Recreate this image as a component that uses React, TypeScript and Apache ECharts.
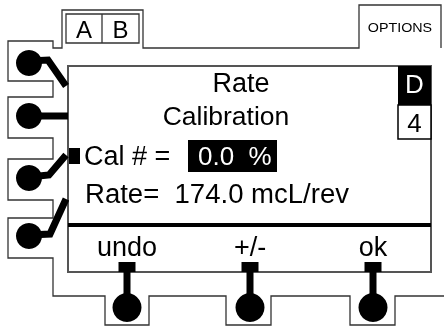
import React, { useEffect, useRef } from 'react';
import * as echarts from 'echarts';

const titleLines = ['Rate', 'Calibration'];
const tabLabels = ['A', 'B'];
const optionsLabel = 'OPTIONS';
const modeLabels = ['D', '4'];
const calLabel = 'Cal # =';
const calValue = '0.0  %';
const rateLabel = 'Rate=  174.0 mcL/rev';
const softKeys = ['undo', '+/-', 'ok'];

const FONT = '"Liberation Sans", Arial, Helvetica, sans-serif';

const outlinePts = [
  [441, 48], [441, 5], [359, 5], [359, 48], [143, 48], [143, 10], [62, 10], [62, 48],
  [53, 48], [53, 41], [8, 41], [8, 81], [53, 81], [53, 97], [8, 97], [8, 138], [53, 138],
  [53, 159], [8, 159], [8, 200], [53, 200], [53, 218], [8, 218], [8, 258], [53, 258],
  [53, 296], [105, 296], [105, 325], [149, 325], [149, 296], [226, 296], [226, 325],
  [271, 325], [271, 296], [350, 296], [350, 325], [395, 325], [395, 296], [444, 296],
];

const leftButtons = [
  { c: [29, 63], stem: [[29, 61], [48, 60], [66, 86]] },
  { c: [29, 116], stem: [[29, 116], [68, 116]] },
  { c: [29, 178], stem: [[29, 177], [49, 175], [66, 155]] },
  { c: [29, 236], stem: [[29, 235], [50, 234], [66, 199]] },
];
const bottomX = [127, 250, 373];

function txt(text: string, x: number, y: number, size: number, opts: any = {}) {
  return {
    type: 'text',
    x,
    y,
    scaleX: opts.sx ?? 1,
    z: 10,
    style: {
      text,
      fontSize: size,
      fontFamily: FONT,
      fill: opts.fill ?? '#000',
      align: opts.align ?? 'center',
      verticalAlign: 'middle',
    },
  };
}

export default function App() {
  const ref = useRef<HTMLDivElement>(null);
  useEffect(() => {
    const chart = echarts.init(ref.current!, undefined, { renderer: 'svg' });
    const els: any[] = [];
    els.push({ type: 'rect', shape: { x: 0, y: 0, width: 444, height: 327 }, style: { fill: '#fff' }, z: 0 });
    els.push({ type: 'polyline', shape: { points: outlinePts }, style: { fill: 'none', stroke: '#333', lineWidth: 1.3 }, z: 1 });
    // A B tab
    els.push({ type: 'rect', shape: { x: 66, y: 14, width: 73, height: 29 }, style: { fill: 'none', stroke: '#333', lineWidth: 1.3 }, z: 2 });
    els.push({ type: 'line', shape: { x1: 102, y1: 14, x2: 102, y2: 43 }, style: { stroke: '#333', lineWidth: 1.3 }, z: 2 });
    els.push(txt(tabLabels[0], 84, 29, 24));
    els.push(txt(tabLabels[1], 120.5, 29, 24));
    els.push(txt(optionsLabel, 400, 28, 13, { sx: 1.1 }));
    // screen
    els.push({ type: 'rect', shape: { x: 68, y: 66, width: 363, height: 206 }, style: { fill: '#fff', stroke: '#555', lineWidth: 2 }, z: 2 });
    els.push({ type: 'rect', shape: { x: 68, y: 223, width: 363, height: 4 }, style: { fill: '#000' }, z: 3 });
    els.push({ type: 'rect', shape: { x: 398, y: 66, width: 33, height: 39 }, style: { fill: '#000' }, z: 3 });
    els.push({ type: 'rect', shape: { x: 398, y: 105, width: 33, height: 34 }, style: { fill: '#fff', stroke: '#000', lineWidth: 1.5 }, z: 3 });
    els.push(txt(modeLabels[0], 414.5, 84, 26, { fill: '#fff' }));
    els.push(txt(modeLabels[1], 414.5, 123, 26));
    els.push(txt(titleLines[0], 241, 83, 27));
    els.push(txt(titleLines[1], 226, 116, 26.5));
    els.push({ type: 'rect', shape: { x: 69, y: 148, width: 11, height: 16 }, style: { fill: '#000' }, z: 3 });
    els.push(txt(calLabel, 84, 156, 27, { align: 'left' }));
    els.push({ type: 'rect', shape: { x: 188, y: 140, width: 89, height: 32 }, style: { fill: '#000' }, z: 3 });
    els.push(txt(calValue, 198, 156, 26, { align: 'left', fill: '#fff' }));
    els.push(txt(rateLabel, 85, 194, 27, { align: 'left', sx: 1.02 }));
    softKeys.forEach((k, i) => els.push(txt(k, bottomX[i], 247, 27)));
    // left buttons
    leftButtons.forEach((b) => {
      els.push({ type: 'polyline', shape: { points: b.stem }, style: { fill: 'none', stroke: '#000', lineWidth: 7 }, z: 4 });
      els.push({ type: 'circle', shape: { cx: b.c[0], cy: b.c[1], r: 13 }, style: { fill: '#000' }, z: 4 });
    });
    // bottom buttons
    bottomX.forEach((x) => {
      els.push({ type: 'rect', shape: { x: x - 8.5, y: 262, width: 17, height: 10 }, style: { fill: '#000' }, z: 4 });
      els.push({ type: 'line', shape: { x1: x, y1: 270, x2: x, y2: 300 }, style: { stroke: '#000', lineWidth: 7 }, z: 4 });
      els.push({ type: 'circle', shape: { cx: x, cy: 307.5, r: 14.5 }, style: { fill: '#000' }, z: 4 });
    });
    chart.setOption({ animation: false, graphic: { elements: els } });
    return () => chart.dispose();
  }, []);
  return <div ref={ref} style={{ position: 'fixed', left: 0, top: 0, width: 444, height: 327 }} />;
}
